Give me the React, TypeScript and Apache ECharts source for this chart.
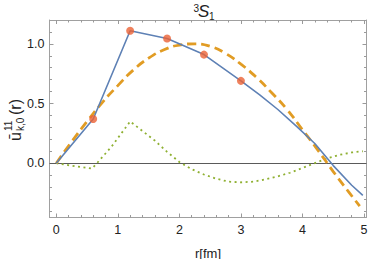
import React, { useEffect, useRef } from "react";
import * as echarts from "echarts";

// ---- data ----
const blueX = [0, 0.6, 1.2, 1.8, 2.4, 3.0, 3.3, 3.6, 3.9, 4.2, 4.5, 4.8, 4.98];
const blueY = [0, 0.37, 1.11, 1.045, 0.91, 0.69, 0.575, 0.45, 0.31, 0.165, -0.02, -0.185, -0.27];

const dotX = [0.6, 1.2, 1.8, 2.4, 3.0];
const dotY = [0.37, 1.11, 1.045, 0.91, 0.69];

const orangeX = [0, 0.25, 0.5, 0.75, 1.0, 1.25, 1.5, 1.75, 2.0, 2.25, 2.5, 2.75, 3.0, 3.25, 3.5, 3.75, 4.0, 4.25, 4.5, 4.75, 4.93];
const orangeY = [0, 0.18, 0.35, 0.51, 0.65, 0.78, 0.88, 0.95, 0.99, 1.0, 0.98, 0.92, 0.83, 0.72, 0.59, 0.45, 0.28, 0.11, -0.07, -0.24, -0.36];

const greenX = [0, 0.3, 0.58, 0.66, 0.9, 1.2, 1.4, 1.6, 1.8, 2.0, 2.2, 2.4, 2.6, 2.8, 3.0, 3.2, 3.4, 3.6, 3.8, 4.0, 4.2, 4.4, 4.6, 4.8, 4.98];
const greenY = [0, -0.025, -0.045, 0, 0.14, 0.35, 0.27, 0.19, 0.095, 0.01, -0.05, -0.095, -0.13, -0.155, -0.16, -0.155, -0.135, -0.11, -0.08, -0.04, 0.0, 0.04, 0.07, 0.09, 0.1];

const xMajorTicks = [0, 1, 2, 3, 4, 5];
const xMinorTicks = [0.2, 0.4, 0.6, 0.8, 1.2, 1.4, 1.6, 1.8, 2.2, 2.4, 2.6, 2.8, 3.2, 3.4, 3.6, 3.8, 4.2, 4.4, 4.6, 4.8];
const yMajorTicks = [0, 0.5, 1.0];
const yMinorTicks = [-0.4, -0.3, -0.2, -0.1, 0.1, 0.2, 0.3, 0.4, 0.6, 0.7, 0.8, 0.9, 1.1];

const X_MIN = -0.11;
const X_MAX = 5.04;
const Y_MIN = -0.455;
const Y_MAX = 1.2;

const zip = (xs: number[], ys: number[]) => xs.map((x, i) => [x, ys[i]]);

const FONT = "Liberation Sans, Arial, sans-serif";
const FRAME = "#a0a0a0";
const TICK = "#9a9a9a";

export default function App() {
  const ref = useRef<HTMLDivElement>(null);

  useEffect(() => {
    if (!ref.current) return;
    const chart = echarts.init(ref.current, undefined, { renderer: "svg" });

    const gridRect = { left: 49.5, top: 20, right: 1.5, bottom: 41.5, containLabel: false, outerBoundsMode: "none" };

    const xAxisBase = (grid: number, position: "bottom" | "top", ticks: number[], len: number, labels: boolean, line: boolean) => ({
      type: "value",
      gridIndex: grid,
      position,
      min: X_MIN,
      max: X_MAX,
      axisLine: { show: line, onZero: false, lineStyle: { color: FRAME, width: 1 } },
      axisTick: { show: true, inside: true, length: len, customValues: ticks, lineStyle: { color: TICK, width: 1 } },
      axisLabel: labels
        ? { show: true, customValues: ticks, formatter: (v: number) => String(v), color: "#222", fontSize: 12.5, fontFamily: FONT, margin: 6 }
        : { show: false },
      splitLine: { show: false },
    });
    const yAxisBase = (grid: number, position: "left" | "right", ticks: number[], len: number, labels: boolean, line: boolean) => ({
      type: "value",
      gridIndex: grid,
      position,
      min: Y_MIN,
      max: Y_MAX,
      axisLine: { show: line, onZero: false, lineStyle: { color: FRAME, width: 1 } },
      axisTick: { show: true, inside: true, length: len, customValues: ticks, lineStyle: { color: TICK, width: 1 } },
      axisLabel: labels
        ? { show: true, customValues: ticks, formatter: (v: number) => v.toFixed(1), color: "#222", fontSize: 12.5, fontFamily: FONT, margin: 5 }
        : { show: false },
      splitLine: { show: false },
    });

    const xAxes: any[] = [
      { ...xAxisBase(0, "bottom", xMajorTicks, 4, true, true), name: "r[fm]", nameLocation: "middle", nameGap: 29, nameTextStyle: { color: "#222", fontSize: 13, fontFamily: FONT } },
      xAxisBase(0, "top", xMajorTicks, 4, false, true),
      xAxisBase(1, "bottom", xMinorTicks, 2.5, false, false),
      xAxisBase(1, "top", xMinorTicks, 2.5, false, false),
    ];
    const yAxes: any[] = [
      yAxisBase(0, "left", yMajorTicks, 4, true, true),
      yAxisBase(0, "right", yMajorTicks, 4, false, true),
      yAxisBase(1, "left", yMinorTicks, 2.5, false, false),
      yAxisBase(1, "right", yMinorTicks, 2.5, false, false),
    ];

    chart.setOption({
      animation: false,
      grid: [gridRect, gridRect],
      xAxis: xAxes,
      yAxis: yAxes,
      graphic: [
        // title  3S1
        { type: "text", x: 193.5, y: 3, style: { text: "3", fontSize: 10, fontFamily: FONT, fill: "#222" } },
        { type: "text", x: 198, y: 3, style: { text: "S", fontSize: 17, fontStyle: "italic", fontFamily: FONT, fill: "#222" } },
        { type: "text", x: 209, y: 11, style: { text: "1", fontSize: 10, fontFamily: FONT, fill: "#222" } },
        // y axis name: ū^{11}_{k,0}(r)
        {
          type: "group",
          x: 5,
          y: 141,
          rotation: Math.PI / 2,
          children: [
            { type: "text", x: 0, y: 2, style: { text: "ū", fontSize: 16, fontFamily: FONT, fill: "#222" } },
            { type: "text", x: 10, y: -2, style: { text: "11", fontSize: 10, fontFamily: FONT, fill: "#222" } },
            { type: "text", x: 10, y: 10, style: { text: "k,0", fontSize: 10, fontFamily: FONT, fill: "#222" } },
            { type: "text", x: 26, y: 2, style: { text: "(r)", fontSize: 16, fontFamily: FONT, fill: "#222" } },
          ],
        },
      ],
      series: [
        {
          type: "line",
          xAxisIndex: 0,
          yAxisIndex: 0,
          data: zip(greenX, greenY),
          showSymbol: false,
          smooth: false,
          z: 2,
          lineStyle: { color: "#8fb032", width: 1.8, type: [2, 3.5] },
          markLine: {
            silent: true,
            symbol: "none",
            label: { show: false },
            lineStyle: { color: "#5a5a5a", width: 1, type: "solid" },
            data: [{ yAxis: 0 }],
            z: 1,
          },
        },
        {
          type: "line",
          xAxisIndex: 0,
          yAxisIndex: 0,
          data: zip(orangeX, orangeY),
          showSymbol: false,
          smooth: true,
          z: 3,
          lineStyle: { color: "#e19c24", width: 2.8, type: [9, 5] },
        },
        {
          type: "line",
          xAxisIndex: 0,
          yAxisIndex: 0,
          data: zip(blueX, blueY),
          showSymbol: false,
          smooth: false,
          z: 4,
          lineStyle: { color: "#5e81b5", width: 1.6 },
        },
        {
          type: "scatter",
          xAxisIndex: 0,
          yAxisIndex: 0,
          data: zip(dotX, dotY),
          symbolSize: 8,
          z: 5,
          itemStyle: { color: "#eb6235" },
        },
      ],
    });

    return () => chart.dispose();
  }, []);

  return <div ref={ref} style={{ width: 368, height: 259, position: "absolute", left: 0, top: 0 }} />;
}
